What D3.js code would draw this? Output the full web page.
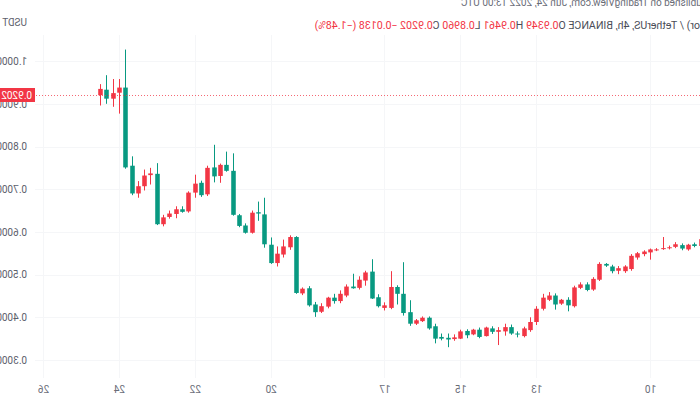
<html>
<head>
<script src="https://cdn.jsdelivr.net/npm/d3@7"></script>
<style>
  body { margin: 0; background: #fff; }
  /* the reference is a mirrored screenshot, so the whole chart is flipped */
  svg { display: block; transform: scaleX(-1); }
</style>
</head>
<body>
<script>
const w = 700;
const h = 400;
const upColor = "#089981";
const downColor = "#f23645";

// 4h candles, oldest first, starting Jun 8 2022 16:00 UTC
const firstCandle = Date.UTC(2022, 5, 8, 16);
const opens = [0.583,0.567,0.570,0.561,0.571,0.564,0.562,0.559,0.559,0.554,0.550,0.544,0.519,0.515,0.508,0.521,0.525,0.490,0.464,0.477,
  0.470,0.428,0.441,0.430,0.451,0.446,0.420,0.389,0.374,0.360,0.362,0.377,0.370,0.366,0.376,0.354,0.371,0.358,0.367,0.353,
  0.348,0.350,0.350,0.374,0.399,0.393,0.385,0.410,0.455,0.471,0.428,0.426,0.444,0.505,0.488,0.468,0.472,0.455,0.438,0.446,
  0.426,0.412,0.428,0.467,0.457,0.588,0.566,0.549,0.527,0.571,0.643,0.645,0.598,0.614,0.640,0.743,0.757,0.730,0.750,0.686,
  0.713,0.692,0.647,0.653,0.643,0.634,0.618,0.737,0.732,0.707,0.690,0.751,0.938,0.925,0.912,0.9349];
const highs = [0.590,0.575,0.572,0.573,0.576,0.568,0.588,0.562,0.561,0.557,0.553,0.548,0.522,0.520,0.523,0.527,0.529,0.494,0.482,0.482,
  0.474,0.447,0.443,0.456,0.459,0.455,0.426,0.400,0.378,0.367,0.383,0.385,0.377,0.379,0.378,0.376,0.373,0.372,0.371,0.360,
  0.362,0.362,0.385,0.402,0.402,0.396,0.440,0.529,0.475,0.508,0.435,0.454,0.536,0.509,0.496,0.502,0.477,0.463,0.455,0.448,
  0.433,0.436,0.473,0.470,0.590,0.592,0.582,0.566,0.587,0.680,0.671,0.650,0.620,0.642,0.784,0.788,0.760,0.804,0.755,0.720,
  0.734,0.695,0.660,0.660,0.650,0.640,0.761,0.750,0.746,0.719,0.777,1.027,0.958,0.958,0.967,0.9461];
const lows = [0.565,0.564,0.556,0.557,0.562,0.559,0.558,0.555,0.535,0.543,0.535,0.509,0.504,0.501,0.503,0.518,0.485,0.462,0.461,0.466,
  0.423,0.414,0.429,0.418,0.438,0.416,0.382,0.366,0.353,0.353,0.359,0.357,0.335,0.361,0.355,0.351,0.358,0.351,0.349,0.345,
  0.330,0.346,0.339,0.371,0.389,0.382,0.380,0.404,0.430,0.419,0.416,0.423,0.443,0.474,0.465,0.467,0.447,0.433,0.432,0.421,
  0.410,0.401,0.425,0.452,0.455,0.558,0.540,0.519,0.525,0.563,0.626,0.596,0.596,0.611,0.638,0.741,0.715,0.716,0.684,0.682,
  0.680,0.645,0.645,0.632,0.631,0.613,0.616,0.711,0.697,0.680,0.686,0.748,0.877,0.893,0.900,0.8960];
const closes = [0.567,0.571,0.559,0.569,0.565,0.562,0.560,0.558,0.552,0.548,0.540,0.513,0.508,0.509,0.519,0.525,0.488,0.465,0.477,0.469,
  0.426,0.441,0.432,0.451,0.441,0.420,0.389,0.370,0.356,0.362,0.377,0.367,0.366,0.374,0.356,0.371,0.360,0.368,0.350,0.349,
  0.352,0.354,0.379,0.399,0.391,0.385,0.412,0.455,0.471,0.422,0.422,0.447,0.507,0.486,0.469,0.472,0.451,0.438,0.446,0.425,
  0.413,0.430,0.468,0.456,0.588,0.564,0.547,0.527,0.570,0.641,0.646,0.598,0.615,0.639,0.743,0.757,0.731,0.751,0.688,0.715,
  0.692,0.648,0.653,0.642,0.635,0.618,0.736,0.733,0.707,0.690,0.755,0.938,0.926,0.912,0.933,0.9202];

const priceTicks = [0.3, 0.4, 0.5, 0.6, 0.7, 0.8, 0.9, 1.0];
const dayTicks = [10, 13, 15, 17, 20, 22, 24, 26];
const lastPrice = 0.9202;
const publishedText = "Published on TradingView.com, Jun 24, 2022 13:00 UTC";
const symbolText = "or) / TetherUS, 4h, BINANCE";
const ohlcLabels = ["O", "H", "L", "C"];
const ohlcValues = ["0.9349", "0.9461", "0.8960", "0.9202"];
const changeText = "\u22120.0138 (\u22121.48%)";

const font = "Roboto, 'Liberation Sans', sans-serif";

const candles = opens.map((o, i) => ({
  t: new Date(firstCandle + i * 4 * 3600 * 1000),
  o: o, h: highs[i], l: lows[i], c: closes[i]
}));

const xScale = d3.scaleUtc()
  .domain([new Date(Date.UTC(2022, 5, 10)), new Date(Date.UTC(2022, 5, 26))])
  .range([49, 656]);
const yScale = d3.scaleLinear().domain([0.3, 1.0]).range([360, 61.1]);

const svg = d3.select("body").append("svg").attr("width", w).attr("height", h);

// grid
svg.append("g").selectAll("line").data(priceTicks).join("line")
  .attr("x1", 0).attr("x2", 665)
  .attr("y1", d => Math.round(yScale(d)) + 0.5).attr("y2", d => Math.round(yScale(d)) + 0.5)
  .attr("stroke", "#f5f6f8");
svg.append("g").selectAll("line").data(dayTicks).join("line")
  .attr("x1", d => Math.round(xScale(new Date(Date.UTC(2022, 5, d)))) + 0.5)
  .attr("x2", d => Math.round(xScale(new Date(Date.UTC(2022, 5, d)))) + 0.5)
  .attr("y1", 35).attr("y2", 378)
  .attr("stroke", "#f5f6f8");

svg.append("clipPath").attr("id", "plot")
  .append("rect").attr("x", 0).attr("y", 0).attr("width", 665).attr("height", 380);

const step = xScale(new Date(firstCandle + 4 * 3600 * 1000)) - xScale(new Date(firstCandle));
const bodyW = step * 0.72;
const plot = svg.append("g").attr("clip-path", "url(#plot)");
const colorOf = d => (d.c >= d.o ? upColor : downColor);

plot.selectAll(".wick").data(candles).join("line")
  .attr("class", "wick")
  .attr("x1", d => Math.round(xScale(d.t)) + 0.5)
  .attr("x2", d => Math.round(xScale(d.t)) + 0.5)
  .attr("y1", d => yScale(d.h))
  .attr("y2", d => yScale(d.l))
  .attr("stroke", colorOf);

plot.selectAll(".body").data(candles).join("rect")
  .attr("class", "body")
  .attr("x", d => Math.round(xScale(d.t)) + 0.5 - bodyW / 2)
  .attr("width", bodyW)
  .attr("y", d => yScale(Math.max(d.o, d.c)))
  .attr("height", d => Math.max(1, Math.abs(yScale(d.o) - yScale(d.c))))
  .attr("fill", colorOf);

// last price line
svg.append("line")
  .attr("x1", 0).attr("x2", 665)
  .attr("y1", Math.round(yScale(lastPrice)) + 0.5).attr("y2", Math.round(yScale(lastPrice)) + 0.5)
  .attr("stroke", downColor).attr("stroke-opacity", 0.75).attr("stroke-dasharray", "1,2");

// price axis
const yAxis = d3.axisRight(yScale).tickValues(priceTicks).tickFormat(d3.format(".4f"))
  .tickSize(0).tickPadding(0);
const yg = svg.append("g").attr("transform", "translate(673,0)").call(yAxis);
yg.select(".domain").remove();
yg.selectAll("text").attr("fill", "#5d606b").style("font", "10px " + font);

svg.append("text").attr("x", 673).attr("y", 25.5).text("USDT")
  .attr("fill", "#5d606b").style("font", "10px " + font);

svg.append("rect").attr("x", 665).attr("y", Math.round(yScale(lastPrice)) - 7)
  .attr("width", 40).attr("height", 14).attr("fill", downColor);
svg.append("text").attr("x", 668).attr("y", Math.round(yScale(lastPrice)) + 3.5)
  .text(d3.format(".4f")(lastPrice)).attr("fill", "#fff").style("font", "10px " + font);

// time axis
const xAxis = d3.axisBottom(xScale)
  .tickValues(dayTicks.map(d => new Date(Date.UTC(2022, 5, d))))
  .tickFormat(d3.utcFormat("%-d")).tickSize(0).tickPadding(0);
const xg = svg.append("g").attr("transform", "translate(0,386)").call(xAxis);
xg.select(".domain").remove();
xg.selectAll("text").attr("fill", "#6a6d78").style("font", "10px " + font);

// header
svg.append("text").attr("x", 239).attr("y", 5.5).attr("text-anchor", "end")
  .text(publishedText).attr("fill", "#6a6d78").style("font", "10px " + font);

const title = svg.append("text").attr("x", 0).attr("y", 28.5).style("font", "10.6px " + font);
title.append("tspan").text(symbolText + " ").attr("fill", "#4a4d57");
ohlcLabels.forEach((l, i) => {
  title.append("tspan").text(l).attr("fill", "#4a4d57");
  title.append("tspan").text(ohlcValues[i] + " ").attr("fill", downColor);
});
title.append("tspan").text(changeText).attr("fill", downColor);
</script>
</body>
</html>
